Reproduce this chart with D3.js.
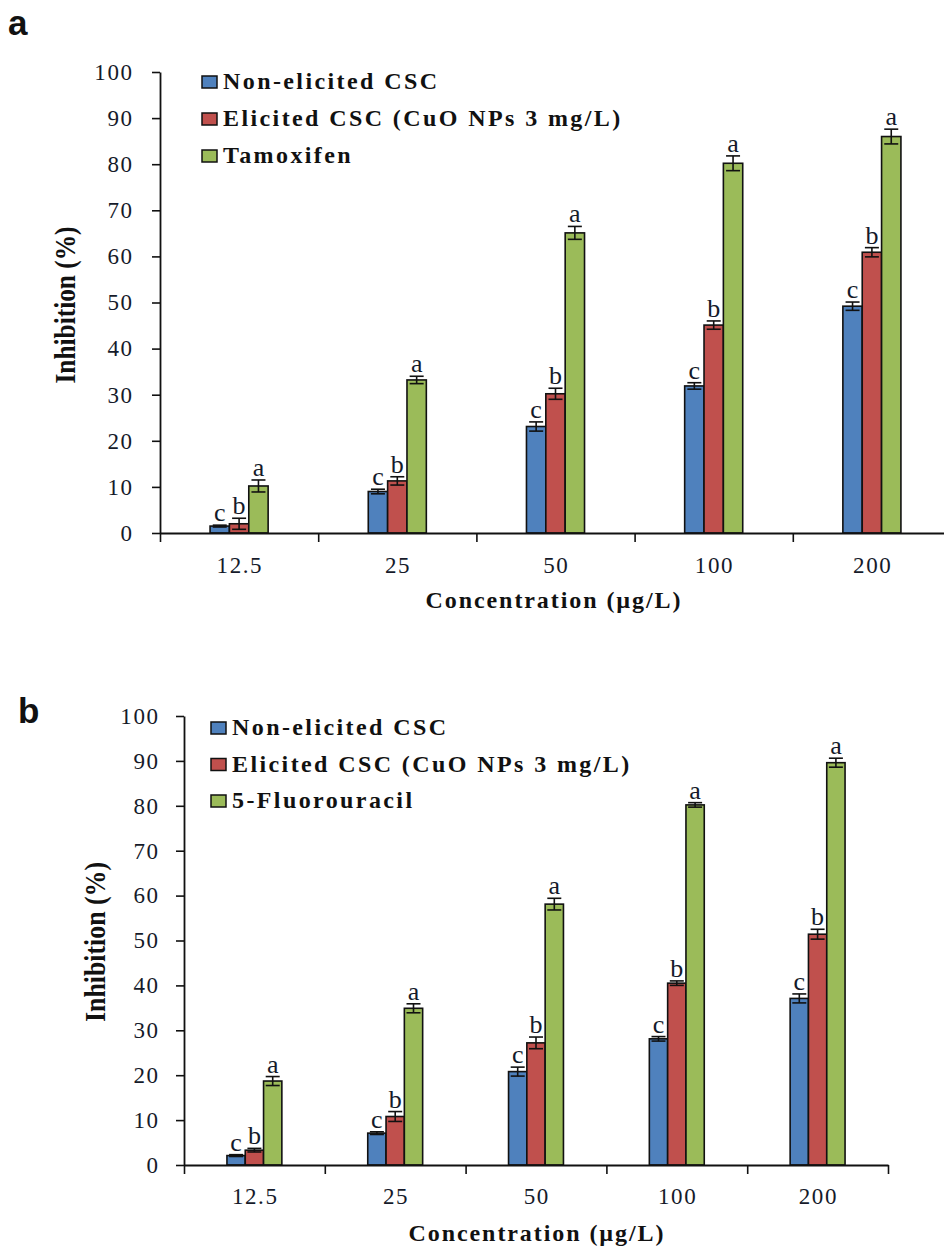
<!DOCTYPE html>
<html>
<head>
<meta charset="utf-8">
<script src="https://cdn.jsdelivr.net/npm/d3@7"></script>
<style>
  html, body { margin: 0; padding: 0; background: #fff; }
  svg { display: block; }
</style>
</head>
<body>
<svg id="chart" width="944" height="1247"></svg>
<script>
// ---------- DATA ----------
const categories = ["12.5", "25", "50", "100", "200"];
const yTicks = [0, 10, 20, 30, 40, 50, 60, 70, 80, 90, 100];
const seriesA = ["Non-elicited CSC", "Elicited CSC (CuO NPs 3 mg/L)", "Tamoxifen"];
const seriesB = ["Non-elicited CSC", "Elicited CSC (CuO NPs 3 mg/L)", "5-Fluorouracil"];
const letters = ["c", "b", "a"];

// Panel a
const nonElicitedA = [1.5, 9.0, 23.1, 31.9, 49.2];
const elicitedA    = [2.0, 11.3, 30.2, 45.1, 60.9];
const tamoxifenA   = [10.2, 33.2, 65.1, 80.2, 86.0];
const errNonElicitedA = [0.2, 0.5, 1.0, 0.7, 0.9];
const errElicitedA    = [1.2, 0.9, 1.2, 0.9, 1.0];
const errTamoxifenA   = [1.3, 0.8, 1.4, 1.6, 1.6];

// Panel b
const nonElicitedB = [2.1, 7.1, 20.8, 28.1, 37.1];
const elicitedB    = [3.3, 10.8, 27.2, 40.5, 51.4];
const fluorouracilB = [18.7, 34.9, 58.1, 80.2, 89.6];
const errNonElicitedB = [0.2, 0.3, 1.0, 0.5, 1.0];
const errElicitedB    = [0.4, 1.1, 1.3, 0.5, 1.1];
const errFluorouracilB = [1.0, 1.0, 1.3, 0.5, 1.0];

const colors = ["#4F81BD", "#C0504D", "#9BBB59"];

// ---------- DRAW ----------
const SERIF = "'Liberation Serif', 'Times New Roman', serif";
const svg = d3.select("#chart");

// widen text by a fixed extra gap between letters (via textLength, keeps serif font)
function spaceOut(sel, gap) {
  sel.each(function () {
    const t = d3.select(this);
    const n = t.text().length;
    const w = this.getComputedTextLength();
    t.attr("textLength", w + gap * (n - 1)).attr("lengthAdjust", "spacing");
  });
}

function drawPanel(cfg) {
  const g = svg.append("g");
  const x0 = d3.scaleBand().domain(categories).range([cfg.left, cfg.right]).padding(0);
  const bw = x0.bandwidth();
  const groupW = bw * cfg.groupFrac;
  const x1 = d3.scaleBand().domain(cfg.series).range([(bw - groupW) / 2, (bw + groupW) / 2]).padding(0);
  const y = d3.scaleLinear().domain([0, 100]).range([cfg.bottom, cfg.top]);

  // bars
  cfg.values.forEach((vals, si) => {
    const sg = g.append("g");
    sg.selectAll("rect").data(vals).join("rect")
      .attr("x", (d, i) => x0(categories[i]) + x1(cfg.series[si]))
      .attr("y", d => y(d))
      .attr("width", x1.bandwidth())
      .attr("height", d => y(0) - y(d))
      .attr("fill", colors[si])
      .attr("stroke", "#111")
      .attr("stroke-width", 1.6);

    // error bars
    const cap = 7;
    vals.forEach((d, i) => {
      const cx = x0(categories[i]) + x1(cfg.series[si]) + x1.bandwidth() / 2;
      const e = cfg.errors[si][i];
      const y1 = y(d + e), y2 = y(d - e);
      sg.append("line").attr("x1", cx).attr("x2", cx).attr("y1", y1).attr("y2", y2)
        .attr("stroke", "#111").attr("stroke-width", 1.6);
      [y1, y2].forEach(yy => sg.append("line").attr("x1", cx - cap).attr("x2", cx + cap)
        .attr("y1", yy).attr("y2", yy).attr("stroke", "#111").attr("stroke-width", 1.6));
      sg.append("text")
        .attr("x", cx).attr("y", y1 - 4)
        .attr("text-anchor", "middle")
        .attr("font-family", SERIF)
        .attr("font-size", 26)
        .attr("fill", "#141a2a")
        .text(letters[si]);
    });
  });

  // y axis
  const yAxis = d3.axisLeft(y).tickValues(yTicks).tickSize(8).tickPadding(cfg.yPad).tickSizeOuter(0);
  const ya = g.append("g").attr("transform", `translate(${cfg.left},0)`).call(yAxis)
    .attr("font-family", SERIF).attr("font-size", 23);
  ya.select(".domain").attr("stroke", "#111").attr("stroke-width", 1.8);
  ya.selectAll(".tick line").attr("stroke", "#111").attr("stroke-width", 1.6);
  ya.selectAll(".tick text").attr("fill", "#151a2a").call(spaceOut, 1.6);

  // x axis boundaries
  const xb = d3.scaleLinear().domain([0, categories.length]).range([cfg.left, cfg.right]);
  const xAxisB = d3.axisBottom(xb).tickValues(d3.range(categories.length + 1)).tickFormat("").tickSize(9).tickSizeOuter(0);
  const xa = g.append("g").attr("transform", `translate(0,${cfg.bottom})`).call(xAxisB);
  xa.select(".domain").attr("stroke", "#111").attr("stroke-width", 1.8);
  xa.selectAll(".tick line").attr("stroke", "#111").attr("stroke-width", 1.6);

  const xAxisL = d3.axisBottom(x0).tickSize(0).tickPadding(cfg.xPad);
  const xl = g.append("g").attr("transform", `translate(0,${cfg.bottom})`).call(xAxisL)
    .attr("font-family", SERIF).attr("font-size", 23);
  xl.select(".domain").remove();
  xl.selectAll(".tick text").attr("fill", "#151a2a").call(spaceOut, 1.6);

  // axis titles
  g.append("text")
    .attr("transform", `translate(${cfg.yTitleX},${cfg.yTitleY}) rotate(-90)`)
    .attr("text-anchor", "middle")
    .attr("textLength", cfg.yTitleLen).attr("lengthAdjust", "spacingAndGlyphs")
    .attr("font-family", SERIF)
    .attr("font-size", 29).attr("font-weight", "bold").attr("fill", "#111")
    .text("Inhibition  (%)");
  g.append("text")
    .attr("x", cfg.xTitleX).attr("y", cfg.xTitleY)
    .attr("text-anchor", "middle")
    .attr("textLength", 255).attr("lengthAdjust", "spacing")
    .attr("font-family", SERIF)
    .attr("font-size", 24).attr("font-weight", "bold").attr("fill", "#111")
    .text("Concentration  (µg/L)");

  // legend
  const lg = g.append("g");
  cfg.series.forEach((s, i) => {
    const by = cfg.legY + i * cfg.legStep;
    lg.append("rect").attr("x", cfg.legX).attr("y", by - 13).attr("width", 15).attr("height", 12)
      .attr("fill", colors[i]).attr("stroke", "#111").attr("stroke-width", 1.5);
    lg.append("text").attr("x", cfg.legX + 21).attr("y", by)
      .attr("font-family", SERIF)
      .attr("font-size", 24).attr("font-weight", "bold")
      .attr("fill", "#111")
      .text(s)
      .call(spaceOut, 2.4);
  });

  // panel letter
  g.append("text").attr("x", cfg.labX).attr("y", cfg.labY)
    .attr("font-family", "'Liberation Sans', Arial, sans-serif")
    .attr("font-size", 35).attr("font-weight", "bold").attr("fill", "#111")
    .text(cfg.label);
}

drawPanel({
  label: "a", labX: 8, labY: 35,
  left: 160, right: 951, top: 72, bottom: 533, groupFrac: 0.367,
  series: seriesA,
  values: [nonElicitedA, elicitedA, tamoxifenA],
  errors: [errNonElicitedA, errElicitedA, errTamoxifenA],
  yPad: 20, xPad: 24,
  yTitleX: 75, yTitleY: 305, yTitleLen: 157,
  xTitleX: 553, xTitleY: 608,
  legX: 202, legY: 89, legStep: 37
});

drawPanel({
  label: "b", labX: 18, labY: 723,
  left: 184, right: 888, top: 716, bottom: 1165, groupFrac: 0.39,
  series: seriesB,
  values: [nonElicitedB, elicitedB, fluorouracilB],
  errors: [errNonElicitedB, errElicitedB, errFluorouracilB],
  yPad: 18, xPad: 23,
  yTitleX: 105, yTitleY: 942, yTitleLen: 160,
  xTitleX: 536, xTitleY: 1241,
  legX: 211, legY: 735, legStep: 36.5
});
</script>
</body>
</html>
